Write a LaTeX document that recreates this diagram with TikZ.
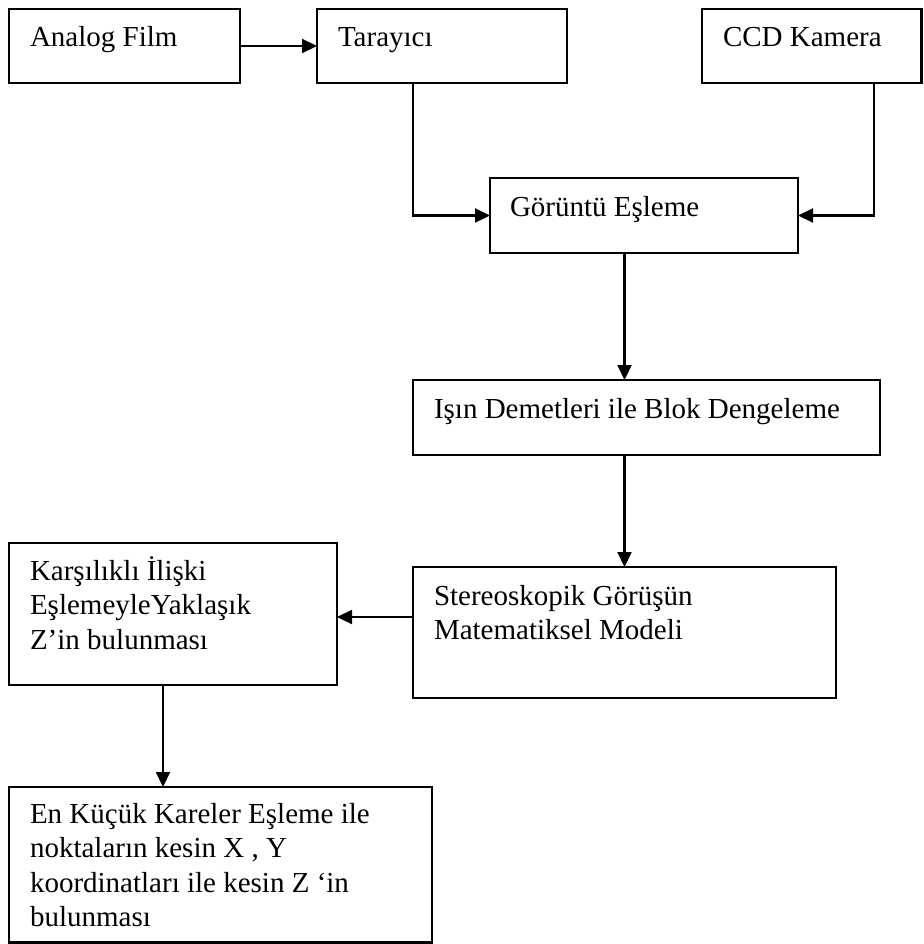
\documentclass[tikz,border=0pt]{standalone}
\usepackage{fontspec}
\setmainfont{Liberation Serif}
\usetikzlibrary{arrows.meta,calc}
\newcommand{\mlines}[1]{\vtop{\baselineskip=34.5pt\lineskiplimit=-\maxdimen\halign{##\hfil\cr#1\crcr}}}
\tikzset{
  box/.style={draw, line width=2.2pt, inner sep=0pt, outer sep=0pt, anchor=north west},
  txt/.style={anchor=base west, inner sep=0pt, outer sep=0pt, font=\fontsize{29}{34.5}\selectfont},
  arr/.style={line width=2.2pt, -{Triangle[length=15pt,width=14pt]}},
}
\begin{document}
\begin{tikzpicture}[x=1pt,y=-1pt]
\useasboundingbox (0,0) rectangle (923,944);
% boxes
\node[box, minimum width=231pt, minimum height=74pt] (af) at (9,9) {};
\node[box, minimum width=250pt, minimum height=74pt] (tr) at (317,9) {};
\node[box, minimum width=219.5pt, minimum height=74pt] (ccd) at (702,9) {};
\node[box, minimum width=308pt, minimum height=75pt] (gor) at (490,178) {};
\node[box, minimum width=467pt, minimum height=75pt] (isin) at (413,380) {};
\node[box, minimum width=423pt, minimum height=131pt] (ster) at (413,567) {};
\node[box, minimum width=328pt, minimum height=142pt] (kar) at (9,543) {};
\node[box, minimum width=423pt, minimum height=155.5pt] (en) at (9,787) {};
% texts
\node[txt] (taf) at ($(af.north west)+(21,38)$) {Analog Film};
\node[txt] (ttr) at ($(tr.north west)+(21,38)$) {Tarayıcı};
\node[txt] (tccd) at ($(ccd.north west)+(21,38)$) {CCD Kamera};
\node[txt] (tgor) at ($(gor.north west)+(20,38)$) {Görüntü Eşleme};
\node[txt] (tisin) at ($(isin.north west)+(21,38)$) {Işın Demetleri ile Blok Dengeleme};
\node[txt] (tster) at ($(ster.north west)+(21,38)$) {\mlines{Stereoskopik Görüşün\cr Matematiksel Modeli}};
\node[txt] (tkar) at ($(kar.north west)+(21,37)$) {\mlines{Karşılıklı İlişki\cr EşlemeyleYaklaşık\cr Z’in bulunması}};
\node[txt] (ten) at ($(en.north west)+(21,36)$) {\mlines{En Küçük Kareler Eşleme ile\cr noktaların kesin X , Y\cr koordinatları ile kesin Z ‘in\cr bulunması}};
% connectors
\draw[arr] (af.east) -- (tr.west);
\draw[arr] ([xshift=-29pt]tr.south) |- (gor.west);
\draw[arr] ([xshift=62.25pt]ccd.south) |- (gor.east);
\draw[arr] (gor.south -| ster.north) -- (isin.north -| ster.north);
\draw[arr] (isin.south -| ster.north) -- (ster.north);
\draw[arr] ($(ster.north west)+(0,50)$) -- ($(kar.north east)+(0,74)$);
\draw[arr] ([xshift=-10pt]kar.south) -- ([xshift=-10pt]kar.south |- en.north);
\end{tikzpicture}
\end{document}
